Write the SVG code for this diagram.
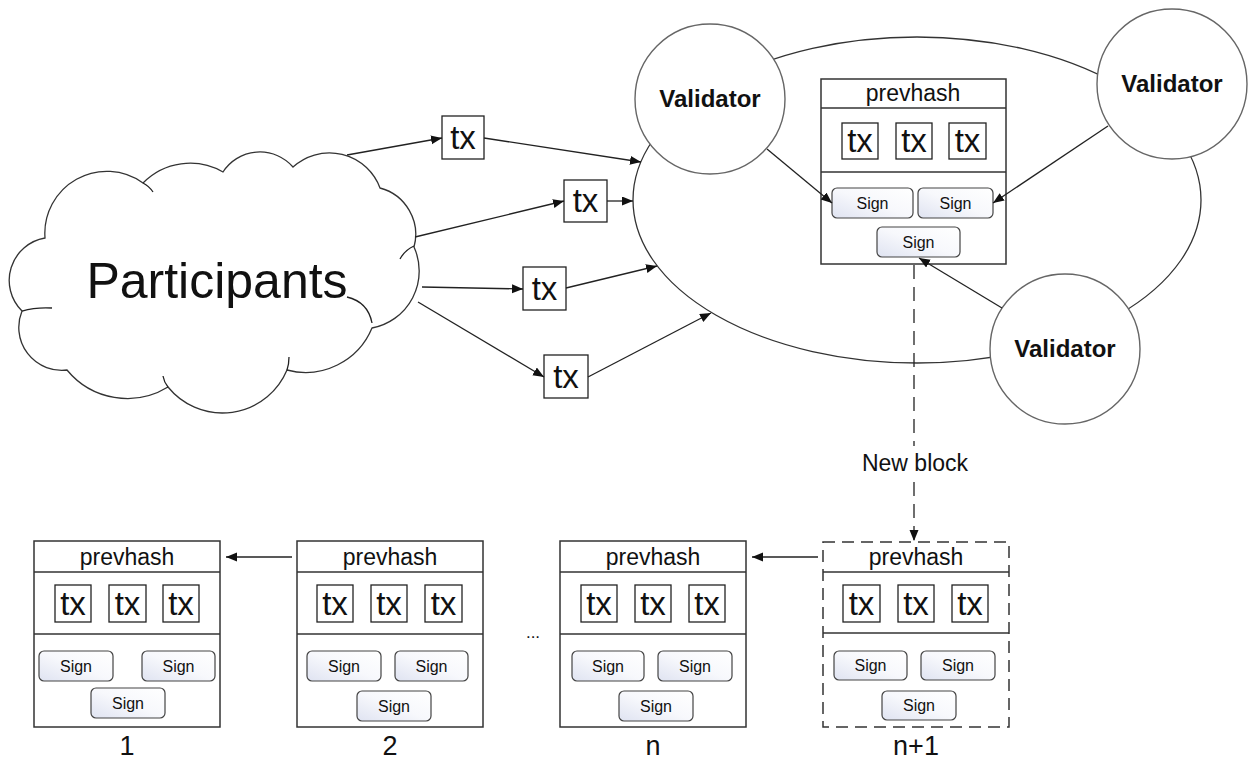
<svg xmlns="http://www.w3.org/2000/svg" width="1253" height="762" viewBox="0 0 1253 762">
<style>
.ln{fill:none;stroke:#222;stroke-width:1.3}
.shape{fill:#fff;stroke:#333;stroke-width:1.3}
.circ{fill:#fff;stroke:#666;stroke-width:1.4}
.blk{fill:#fff;stroke:#333;stroke-width:1.5}
.div{stroke:#333;stroke-width:1.5}
.txb{fill:#fff;stroke:#222;stroke-width:1.3}
.sg{fill:url(#sg);stroke:#444;stroke-width:1.2}
.t{font-family:"Liberation Sans",Arial,sans-serif;fill:#111;text-anchor:middle}
.ph{font-size:23px}
.tx{font-size:33px}
.sn{font-size:16px}
.val{font-size:24px;font-weight:bold}
.lab{font-size:27px}
</style>
<defs>
<linearGradient id="sg" x1="1" y1="0" x2="0" y2="1">
<stop offset="0" stop-color="#ffffff"/>
<stop offset="0.5" stop-color="#f7f8fc"/>
<stop offset="1" stop-color="#dfe3f1"/>
</linearGradient>
<marker id="ah" markerUnits="userSpaceOnUse" markerWidth="12" markerHeight="10" refX="11" refY="4.5" orient="auto">
<path d="M0,0 L11,4.5 L0,9 Z" fill="#111"/>
</marker>
</defs>

<g id="cloud">
<path class="shape" d="M45,238 A62,62 0 0,1 143,183 A66,66 0 0,1 223,172 A44,44 0 0,1 293,167 A54,54 0 0,1 380,188 A48,48 0 0,1 414,247 A58,58 0 0,1 372,328 A72,72 0 0,1 287,370 A70,70 0 0,1 168,387 A78,78 0 0,1 67,370 A43,43 0 0,1 22,311 A43,43 0 0,1 45,238 Z"/>
<path class="ln" d="M143,183 Q149,186 153,192"/>
<path class="ln" d="M400,259 Q405,250 414,246"/>
<path class="ln" d="M347,297 Q368,302 372,323"/>
<path class="ln" d="M287,370 Q289,364 289,357"/>
<path class="ln" d="M168,387 Q164,382 163,376"/>
<path class="ln" d="M22,311 Q36,307 52,308"/>
<text class="t" x="217" y="298" font-size="50">Participants</text>
</g>

<g id="network">
<ellipse class="shape" cx="917" cy="200" rx="284" ry="163"/>
</g>

<g id="tx1"><rect class="txb" x="442" y="116" width="42" height="43"/><text class="t tx" x="463" y="149">tx</text></g>
<g id="tx2"><rect class="txb" x="564" y="180" width="43" height="42"/><text class="t tx" x="585.5" y="212">tx</text></g>
<g id="tx3"><rect class="txb" x="523" y="267" width="43" height="43"/><text class="t tx" x="544.5" y="300">tx</text></g>
<g id="tx4"><rect class="txb" x="544" y="355" width="44" height="43"/><text class="t tx" x="566" y="388">tx</text></g>

<g id="validator1"><circle class="circ" cx="710" cy="99" r="75"/><text class="t val" x="710" y="107">Validator</text></g>
<g id="validator2"><circle class="circ" cx="1172" cy="84" r="75"/><text class="t val" x="1172" y="92">Validator</text></g>
<g id="validator3"><circle class="circ" cx="1065" cy="349" r="75"/><text class="t val" x="1065" y="357">Validator</text></g>

<g id="candidate-block" transform="translate(821,79)">
<rect class="blk" x="0" y="0" width="185" height="185"/>
<line class="div" x1="0" y1="29" x2="185" y2="29"/>
<line class="div" x1="0" y1="93" x2="185" y2="93"/>
<text class="t ph" x="92" y="22">prevhash</text>
<rect class="txb" x="21" y="44" width="36" height="36"/><text class="t tx" x="39" y="73">tx</text>
<rect class="txb" x="75" y="44" width="36" height="36"/><text class="t tx" x="93" y="73">tx</text>
<rect class="txb" x="128" y="44" width="37" height="36"/><text class="t tx" x="146.5" y="73">tx</text>
<rect class="sg" x="11" y="109" width="81" height="30" rx="5"/><text class="t sn" x="51.5" y="130">Sign</text>
<rect class="sg" x="97" y="109" width="75" height="30" rx="5"/><text class="t sn" x="134.5" y="130">Sign</text>
<rect class="sg" x="56" y="148" width="83" height="30" rx="5"/><text class="t sn" x="97.5" y="169">Sign</text>
</g>

<g id="block-1" transform="translate(34,541)">
<rect class="blk" x="0" y="0" width="186" height="186"/>
<line class="div" x1="0" y1="31" x2="186" y2="31"/>
<line class="div" x1="0" y1="93" x2="186" y2="93"/>
<text class="t ph" x="93" y="24">prevhash</text>
<rect class="txb" x="21" y="44" width="36" height="37"/><text class="t tx" x="39" y="74">tx</text>
<rect class="txb" x="75" y="44" width="37" height="37"/><text class="t tx" x="93.5" y="74">tx</text>
<rect class="txb" x="129" y="44" width="36" height="37"/><text class="t tx" x="147" y="74">tx</text>
<rect class="sg" x="5" y="110" width="74" height="30" rx="5"/><text class="t sn" x="42" y="131">Sign</text>
<rect class="sg" x="108" y="110" width="73" height="30" rx="5"/><text class="t sn" x="144.5" y="131">Sign</text>
<rect class="sg" x="57" y="147" width="74" height="30" rx="5"/><text class="t sn" x="94" y="168">Sign</text>
</g>
<text class="t lab" x="127" y="755">1</text>

<g id="block-2" transform="translate(297,541)">
<rect class="blk" x="0" y="0" width="186" height="186"/>
<line class="div" x1="0" y1="31" x2="186" y2="31"/>
<line class="div" x1="0" y1="93" x2="186" y2="93"/>
<text class="t ph" x="93" y="24">prevhash</text>
<rect class="txb" x="20" y="44" width="36" height="37"/><text class="t tx" x="38" y="74">tx</text>
<rect class="txb" x="74" y="44" width="36" height="37"/><text class="t tx" x="92" y="74">tx</text>
<rect class="txb" x="128" y="44" width="37" height="37"/><text class="t tx" x="146.5" y="74">tx</text>
<rect class="sg" x="10" y="110" width="74" height="30" rx="5"/><text class="t sn" x="47" y="131">Sign</text>
<rect class="sg" x="98" y="110" width="73" height="30" rx="5"/><text class="t sn" x="134.5" y="131">Sign</text>
<rect class="sg" x="60" y="150" width="74" height="30" rx="5"/><text class="t sn" x="97" y="171">Sign</text>
</g>
<text class="t lab" x="390" y="755">2</text>
<text class="t" x="533" y="638" font-size="17">...</text>

<g id="block-n" transform="translate(560,541)">
<rect class="blk" x="0" y="0" width="186" height="186"/>
<line class="div" x1="0" y1="31" x2="186" y2="31"/>
<line class="div" x1="0" y1="93" x2="186" y2="93"/>
<text class="t ph" x="93" y="24">prevhash</text>
<rect class="txb" x="21" y="44" width="36" height="37"/><text class="t tx" x="39" y="74">tx</text>
<rect class="txb" x="75" y="44" width="36" height="37"/><text class="t tx" x="93" y="74">tx</text>
<rect class="txb" x="129" y="44" width="36" height="37"/><text class="t tx" x="147" y="74">tx</text>
<rect class="sg" x="12" y="110" width="72" height="30" rx="5"/><text class="t sn" x="48" y="131">Sign</text>
<rect class="sg" x="98" y="110" width="74" height="30" rx="5"/><text class="t sn" x="135" y="131">Sign</text>
<rect class="sg" x="59" y="150" width="74" height="30" rx="5"/><text class="t sn" x="96" y="171">Sign</text>
</g>
<text class="t lab" x="653" y="755">n</text>

<g id="block-n1" transform="translate(823,542)">
<rect class="blk" x="0" y="0" width="186" height="185" stroke-dasharray="12 7"/>
<line class="div" x1="0" y1="30" x2="186" y2="30"/>
<line class="div" x1="0" y1="91" x2="186" y2="91"/>
<text class="t ph" x="93" y="23">prevhash</text>
<rect class="txb" x="20" y="43" width="37" height="37"/><text class="t tx" x="38.5" y="73">tx</text>
<rect class="txb" x="75" y="43" width="36" height="37"/><text class="t tx" x="93" y="73">tx</text>
<rect class="txb" x="129" y="43" width="36" height="37"/><text class="t tx" x="147" y="73">tx</text>
<rect class="sg" x="11" y="109" width="73" height="29" rx="5"/><text class="t sn" x="47.5" y="129">Sign</text>
<rect class="sg" x="98" y="109" width="74" height="29" rx="5"/><text class="t sn" x="135" y="129">Sign</text>
<rect class="sg" x="59" y="149" width="74" height="29" rx="5"/><text class="t sn" x="96" y="169">Sign</text>
</g>
<text class="t lab" x="916" y="755">n+1</text>

<g id="connectors">
<line class="ln" x1="347" y1="155" x2="442" y2="138" marker-end="url(#ah)"/>
<line class="ln" x1="415" y1="237" x2="564" y2="201" marker-end="url(#ah)"/>
<line class="ln" x1="422" y1="287" x2="523" y2="289" marker-end="url(#ah)"/>
<line class="ln" x1="418" y1="302" x2="544" y2="377" marker-end="url(#ah)"/>
<line class="ln" x1="484" y1="138" x2="641" y2="162" marker-end="url(#ah)"/>
<line class="ln" x1="607" y1="201" x2="633" y2="201" marker-end="url(#ah)"/>
<line class="ln" x1="566" y1="288" x2="657" y2="266" marker-end="url(#ah)"/>
<line class="ln" x1="588" y1="377" x2="711" y2="313" marker-end="url(#ah)"/>
<line class="ln" x1="767" y1="149" x2="832" y2="203" marker-end="url(#ah)"/>
<line class="ln" x1="1108" y1="126" x2="993" y2="203" marker-end="url(#ah)"/>
<line class="ln" x1="1002" y1="308" x2="919" y2="258" marker-end="url(#ah)"/>
<line class="ln" x1="914" y1="265" x2="914" y2="446" stroke-dasharray="14 8"/>
<line class="ln" x1="914" y1="482" x2="914" y2="541" stroke-dasharray="14 8" marker-end="url(#ah)"/>
<text class="t" x="915" y="471" font-size="23">New block</text>
<line class="ln" x1="292" y1="557" x2="226" y2="557" marker-end="url(#ah)"/>
<line class="ln" x1="818" y1="557" x2="752" y2="557" marker-end="url(#ah)"/>
</g>
</svg>
